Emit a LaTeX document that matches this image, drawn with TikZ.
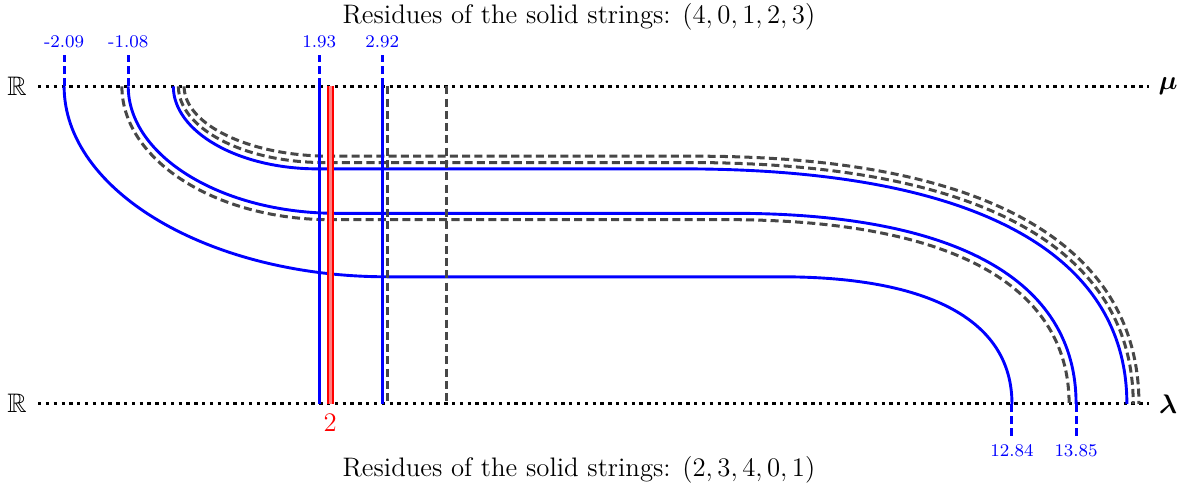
\documentclass[tikz,border=0pt,12pt]{standalone}
\usepackage{amsmath,amssymb}
\usepackage{bm}
\usepackage{tikz}
\usetikzlibrary{arrows.meta, positioning, calc}

\begin{document}
\begin{tikzpicture}[>=Stealth,
			axisline/.style={dotted, line width=1.5pt},
			solidstr/.style={blue, line width=1.3pt},
			dashstr/.style={black!72, dash pattern=on 3.6pt off 1.9pt, line width=1.35pt},
			tickline/.style={blue, dash pattern=on 3.6pt off 1.9pt, line width=1.35pt},
			value/.style={blue, font=\scriptsize},
			label/.style={font=\normalsize, align=center}
			]
			
			\useasboundingbox (-3.1,-1.4) rectangle (15.66,6.36);
			
			% 1. The two real lines
			\draw[axisline] (-2.5,5) -- (15,5);
			\draw[axisline] (-2.5,0) -- (15,0);
			\node[label] (Rtop) at (-2.83,5) {$\mathbb{R}$};
			\node[label] (Rbot) at (-2.83,0) {$\mathbb{R}$};
			\node[label] (mu) at (15.3,5) {$\boldsymbol{\mu}$};
			\node[label] (lambda) at (15.3,0) {$\boldsymbol{\lambda}$};
			
			% 2. Solid strings (start / level / bend / end)
			\foreach \xs/\xl/\h/\xr/\xe in {-2.09/3.0/2.0/9.2/12.84, -1.08/2.2/3.0/8.45/13.85, -0.37/1.9/3.7/7.65/14.65} {
				\draw[solidstr] (\xs,5) .. controls (\xs,{5-0.55*(5-\h)}) and ({\xl-0.55*(\xl-(\xs))},\h) .. (\xl,\h)
				-- (\xr,\h) .. controls ({\xr+0.65*(\xe-\xr)},\h) and (\xe,{0.65*\h}) .. (\xe,0);
			}
			
			% Dashed strings
			\foreach \xs/\xl/\h/\xr/\xe in {-1.18/2.1/2.9/8.35/13.74, -0.29/2.0/3.8/7.75/14.75, -0.2/2.1/3.9/7.85/14.84} {
				\draw[dashstr] (\xs,5) .. controls (\xs,{5-0.55*(5-\h)}) and ({\xl-0.55*(\xl-(\xs))},\h) .. (\xl,\h)
				-- (\xr,\h) .. controls ({\xr+0.65*(\xe-\xr)},\h) and (\xe,{0.65*\h}) .. (\xe,0);
			}
			
			% 3. Vertical strings
			\foreach \x in {1.93,2.92} {
				\draw[solidstr] (\x,5) -- (\x,0);
			}
			\foreach \x in {3.0,3.93} {
				\draw[dashstr] (\x,5) -- (\x,0);
			}
			\draw[red, double=red!50, double distance=1.4pt, line width=0.9pt] (2.1,5) -- (2.1,0);
			\node[red, label] (two) at (2.1,-0.3) {$2$};
			
			% 4. Values at the ends
			\foreach \v/\n in {-2.09/a, -1.08/b, 1.93/c, 2.92/d} {
				\draw[tickline] (\v,5) -- (\v,5.5);
				\node[value] (top\n) at (\v,5.71) {\v};
			}
			\foreach \v/\n in {12.84/a, 13.85/b} {
				\draw[tickline] (\v,0) -- (\v,-0.5);
				\node[value] (bot\n) at (\v,-0.74) {\v};
			}
			
			% 5. Residues
			\node[label] (restop) at (6.02,6.1) {Residues of the solid strings: $(4,0,1,2,3)$};
			\node[label] (resbot) at (6.02,-1.04) {Residues of the solid strings: $(2,3,4,0,1)$};
			
		\end{tikzpicture}
\end{document}
